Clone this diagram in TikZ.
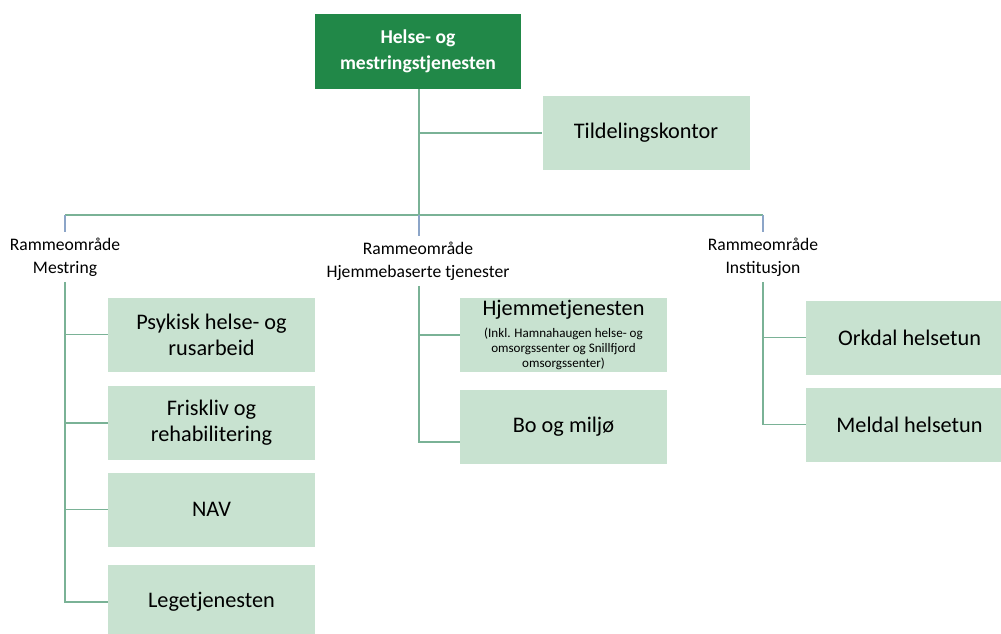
\documentclass[tikz,border=0pt]{standalone}
\usepackage{fontspec}
\setmainfont{Carlito}
\usepackage{tikz}
\usetikzlibrary{positioning}

\definecolor{hmsgreen}{RGB}{33,136,72}
\definecolor{unitgreen}{RGB}{200,226,208}
\definecolor{linegreen}{RGB}{122,178,150}
\definecolor{lineblue}{RGB}{140,165,200}
\newcommand\hjsmall{\fontsize{9.8}{11.2}\selectfont}

\begin{document}
\begin{tikzpicture}[x=0.75pt,y=0.75pt,yscale=-1,
  unitbox/.style={fill=unitgreen, minimum width=155.25pt, minimum height=55.5pt, inner sep=2pt, align=center, font=\fontsize{16.7}{19.5}\selectfont},
  areatext/.style={inner xsep=0pt, inner ysep=4pt, align=center, font=\fontsize{13.2}{17.25}\selectfont},
  orgline/.style={draw=linegreen, line width=1pt},
  dropline/.style={draw=lineblue, line width=1pt}]
\useasboundingbox (0,0) rectangle (1001,633);

% Top box
\node [fill=hmsgreen, minimum width=154.5pt, minimum height=56.25pt, align=center, text=white, font=\bfseries\fontsize{14.7}{19.5}\selectfont] (hms) at (418,51.5) {Helse- og\\mestringstjenesten};
\node [unitbox] (tildel) at (646,133) {Tildelingskontor};

% Area labels
\node [areatext] (mestring) at (65,257) {Rammeområde\\Mestring};
\node [areatext] (hjemmebas) at (418,261) {Rammeområde\\Hjemmebaserte tjenester};
\node [areatext] (institusjon) at (763,257) {Rammeområde\\Institusjon};

% Mestring
\node [unitbox] (psyk) at (211.5,334.5) {Psykisk helse- og\\rusarbeid};
\node [unitbox] (frisk) at (211.5,423) {Friskliv og\\rehabilitering};
\node [unitbox] (nav) at (211.5,509.5) {NAV};
\node [unitbox] (lege) at (211.5,602) {Legetjenesten};

% Hjemmebaserte tjenester
\node [unitbox, inner ysep=0pt] (hjem) at (563.5,335) {Hjemmetjenesten\\[-3pt]\hjsmall (Inkl. Hamnahaugen helse- og\\[-8pt]\hjsmall omsorgssenter og Snillfjord\\[-8pt]\hjsmall omsorgssenter)};
\node [unitbox] (bo) at (563.5,426.5) {Bo og miljø};

% Institusjon
\node [unitbox] (orkdal) at (909.5,337.5) {Orkdal helsetun};
\node [unitbox] (meldal) at (909.5,424.5) {Meldal helsetun};

% Lines
\coordinate (busleft) at (65,215);
\coordinate (busmid) at (419,215);
\coordinate (busright) at (763,215);
\coordinate (bolink) at (419,442);
\draw [orgline] (busmid |- hms.south) -- (busmid);
\draw [orgline] (busmid |- tildel.west) -- (tildel.west);
\draw [orgline] (busleft) -- (busright);
\draw [dropline] (busleft) -- (mestring.north);
\draw [dropline] (busmid) -- (busmid |- hjemmebas.north);
\draw [dropline] (busright) -- (institusjon.north);

\draw [orgline] (mestring.south) |- (lege.west);
\foreach \unit in {psyk,frisk,nav}
  \draw [orgline] (mestring.south |- \unit.west) -- (\unit.west);

\draw [orgline] (busmid |- hjemmebas.south) |- (bolink) -- (bo.west |- bolink);
\draw [orgline] (bolink |- hjem.west) -- (hjem.west);

\draw [orgline] (institusjon.south) |- (meldal.west);
\draw [orgline] (institusjon.south |- orkdal.west) -- (orkdal.west);

\end{tikzpicture}
\end{document}
